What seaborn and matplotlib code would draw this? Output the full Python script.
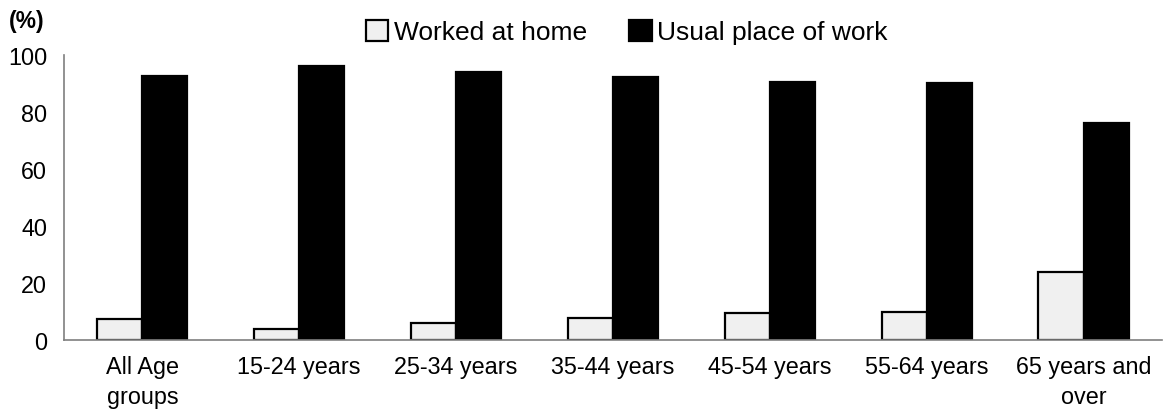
import pandas as pd
import matplotlib
matplotlib.use('Agg')
import matplotlib.pyplot as plt
import seaborn as sns

sns.set_style('white')
plt.rcParams['font.family'] = ['Liberation Sans', 'DejaVu Sans']
plt.rcParams['text.color'] = 'black'

# data
groups = ['All Age\ngroups', '15-24 years', '25-34 years', '35-44 years',
          '45-54 years', '55-64 years', '65 years and\nover']
home = [7.4, 3.9, 6.0, 7.7, 9.6, 9.9, 23.9]
usual = [92.6, 96.1, 94.0, 92.3, 90.4, 90.1, 76.1]
series = ['Worked at home', 'Usual place of work']

df = pd.DataFrame({
    'group': groups * 2,
    'value': home + usual,
    'type': [series[0]] * len(groups) + [series[1]] * len(groups),
})

fig = plt.figure(figsize=(11.67, 4.14), dpi=100)
ax = fig.add_axes([0.0548, 0.176, 0.9409, 0.689])

sns.barplot(data=df, x='group', y='value', hue='type', order=groups,
            hue_order=series, palette=['#F0F0F0', '#000000'],
            edgecolor='black', linewidth=1.6, width=0.575, ax=ax)

ax.set_ylim(0, 100)
ax.set_xlim(-0.5, len(groups) - 0.5)
ax.set_yticks([0, 20, 40, 60, 80, 100])
ax.set_xlabel('')
ax.set_ylabel('')
ax.tick_params(axis='both', length=0, labelsize=16.8, colors='black')
ax.tick_params(axis='x', pad=11)
ax.tick_params(axis='y', pad=12)
for lbl in ax.get_xticklabels():
    lbl.set_linespacing(1.35)
for s in ['top', 'right']:
    ax.spines[s].set_visible(False)
for s in ['left', 'bottom']:
    ax.spines[s].set_color('#7f7f7f')
    ax.spines[s].set_linewidth(1.2)

handles, labels = ax.get_legend_handles_labels()
ax.get_legend().remove()
fig.legend(handles, labels, loc='center', bbox_to_anchor=(0.537, 0.92),
           ncol=2, frameon=False, fontsize=19, handlelength=0.85,
           handleheight=0.85, handletextpad=0.2, columnspacing=1.6)

fig.text(0.008, 0.948, '(%)', fontsize=16.5, fontweight='bold', va='center')

fig.savefig('out.png', dpi=100)
